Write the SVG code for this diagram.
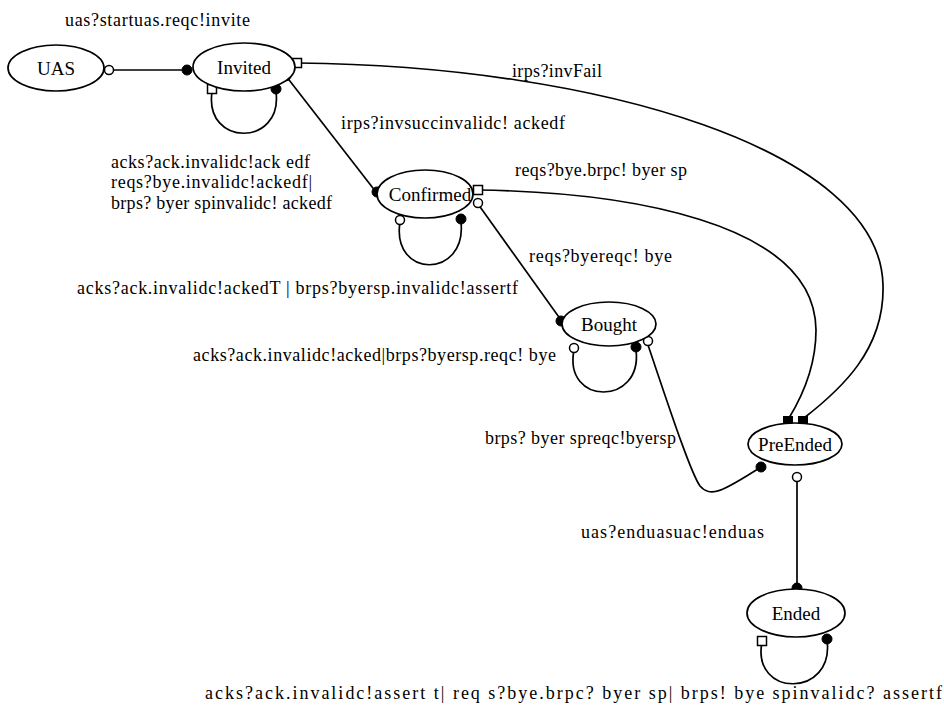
<svg xmlns="http://www.w3.org/2000/svg" width="944" height="706" viewBox="0 0 944 706">
<style>
  .node ellipse { fill: #ffffff; stroke: #000000; stroke-width: 1.7; }
  .node text { font-family: "Liberation Serif", "Times New Roman", serif; font-size: 19px; fill: #000000; text-anchor: middle; }
  .edge { fill: none; stroke: #000000; stroke-width: 1.7; }
  .lbl { font-family: "Liberation Serif", "Times New Roman", serif; font-size: 18px; fill: #000000; }
  .fc { fill: #000000; stroke: #000000; stroke-width: 1; }
  .oc { fill: #ffffff; stroke: #000000; stroke-width: 1.5; }
  .os { fill: #ffffff; stroke: #000000; stroke-width: 1.5; }
  .fs { fill: #000000; stroke: #000000; stroke-width: 1; }
</style>
<rect width="944" height="706" fill="#ffffff"/>

<g id="connectors">
  <path class="edge" d="M109,70 L188,70"/>
  <path class="edge" d="M212,92 C204,147 283,147 276,92"/>
  <path class="edge" d="M298,63 C600,66 880,150 883,285 C885,350 840,390 804,418"/>
  <path class="edge" d="M286,76 L376,192"/>
  <path class="edge" d="M400,222 C391,279 467,279 461,222"/>
  <path class="edge" d="M478,190 C620,192 815,220 816,330 C816,370 800,400 789,418"/>
  <path class="edge" d="M478,204 L561,320"/>
  <path class="edge" d="M574,350 C563,406 643,406 636,350"/>
  <path class="edge" d="M648,345 C665,395 690,472 700,486 C710,498 722,492 761,467"/>
  <path class="edge" d="M797,478 L797,587"/>
  <path class="edge" d="M762,642 C751,698 835,698 827,640"/>

  <circle class="oc" cx="109" cy="70" r="4.5"/>
  <circle class="fc" cx="187" cy="70" r="5"/>
  <rect class="os" x="207.5" y="84.5" width="9" height="9"/>
  <circle class="fc" cx="276" cy="89" r="5"/>
  <rect class="os" x="292.5" y="58.5" width="9" height="9"/>
  <circle class="oc" cx="286" cy="76" r="4.5"/>
  <circle class="fc" cx="377" cy="192" r="5"/>
  <rect class="os" x="473.5" y="185.5" width="9" height="9"/>
  <circle class="oc" cx="478" cy="203" r="4.5"/>
  <circle class="oc" cx="400" cy="220" r="4.5"/>
  <circle class="fc" cx="461" cy="219" r="5"/>
  <circle class="fc" cx="561" cy="321" r="5"/>
  <circle class="oc" cx="574" cy="348" r="4.5"/>
  <circle class="fc" cx="636" cy="347" r="5"/>
  <circle class="oc" cx="648" cy="341" r="4.5"/>
  <rect class="fs" x="783.5" y="416.5" width="9" height="9"/>
  <rect class="fs" x="798.5" y="416.5" width="9" height="9"/>
  <circle class="fc" cx="761" cy="467" r="5"/>
  <circle class="oc" cx="797" cy="477" r="4.5"/>
  <circle class="fc" cx="797" cy="588" r="5"/>
  <rect class="os" x="757.5" y="636.5" width="9" height="9"/>
  <circle class="fc" cx="827" cy="639" r="5"/>
</g>

<g id="node-UAS" class="node">
  <ellipse cx="56" cy="68" rx="48" ry="23"/>
  <text x="56" y="75">UAS</text>
</g>
<g id="node-Invited" class="node">
  <ellipse cx="244" cy="67" rx="51" ry="24"/>
  <text x="244" y="74">Invited</text>
</g>
<g id="node-Confirmed" class="node">
  <ellipse cx="425" cy="194" rx="48" ry="24"/>
  <text x="430" y="201">Confirmed</text>
</g>
<g id="node-Bought" class="node">
  <ellipse cx="609" cy="324" rx="47" ry="22"/>
  <text x="609" y="331">Bought</text>
</g>
<g id="node-PreEnded" class="node">
  <ellipse cx="795" cy="444" rx="47" ry="21"/>
  <text x="795" y="451">PreEnded</text>
</g>
<g id="node-Ended" class="node">
  <ellipse cx="796" cy="613" rx="49" ry="24"/>
  <text x="796" y="620">Ended</text>
</g>

<g id="labels">
  <text class="lbl" x="65" y="26" textLength="185" lengthAdjust="spacing">uas?startuas.reqc!invite</text>
  <text class="lbl" x="512" y="77" textLength="90" lengthAdjust="spacing">irps?invFail</text>
  <text class="lbl" x="341" y="129" textLength="224" lengthAdjust="spacing">irps?invsuccinvalidc! ackedf</text>
  <text class="lbl" x="111" y="168" textLength="199" lengthAdjust="spacing">acks?ack.invalidc!ack edf</text>
  <text class="lbl" x="111" y="188" textLength="201" lengthAdjust="spacing">reqs?bye.invalidc!ackedf|</text>
  <text class="lbl" x="111" y="209" textLength="221" lengthAdjust="spacing">brps? byer spinvalidc! ackedf</text>
  <text class="lbl" x="515" y="176" textLength="172" lengthAdjust="spacing">reqs?bye.brpc! byer sp</text>
  <text class="lbl" x="529" y="262" textLength="143" lengthAdjust="spacing">reqs?byereqc! bye</text>
  <text class="lbl" x="77" y="294" textLength="441" lengthAdjust="spacing">acks?ack.invalidc!ackedT |  brps?byersp.invalidc!assertf</text>
  <text class="lbl" x="193" y="361" textLength="363" lengthAdjust="spacing">acks?ack.invalidc!acked|brps?byersp.reqc! bye</text>
  <text class="lbl" x="485" y="444" textLength="191" lengthAdjust="spacing">brps? byer spreqc!byersp</text>
  <text class="lbl" x="581" y="538" textLength="183" lengthAdjust="spacing">uas?enduasuac!enduas</text>
  <text class="lbl" x="205" y="699" textLength="737" lengthAdjust="spacing">acks?ack.invalidc!assert t| req s?bye.brpc? byer sp|  brps! bye spinvalidc? assertf</text>
</g>
</svg>
